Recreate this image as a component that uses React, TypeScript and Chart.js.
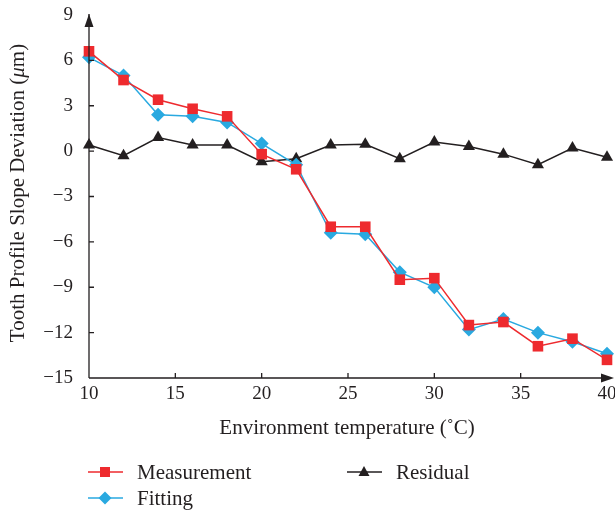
import React, { useEffect, useRef } from "react";
import { Chart, registerables } from "chart.js";

Chart.register(...registerables);

const temperatures = [10, 12, 14, 16, 18, 20, 22, 24, 26, 28, 30, 32, 34, 36, 38, 40];
const measurement = [6.6, 4.7, 3.4, 2.8, 2.3, -0.2, -1.2, -5.0, -5.0, -8.5, -8.4, -11.5, -11.3, -12.9, -12.4, -13.8];
const fitting = [6.2, 5.0, 2.4, 2.3, 1.9, 0.5, -0.9, -5.4, -5.5, -8.0, -9.0, -11.8, -11.1, -12.0, -12.6, -13.4];
const residual = [0.4, -0.3, 0.9, 0.4, 0.4, -0.7, -0.5, 0.4, 0.45, -0.5, 0.6, 0.3, -0.2, -0.9, 0.2, -0.4];

const xTitle = "Environment temperature (\u02DAC)";
const yTitleMain = "Tooth Profile Slope Deviation (";
const yTitleMu = "\u03BC";
const yTitleEnd = "m)";

const FONT = "'Liberation Serif', 'DejaVu Serif', serif";
const RED = "#EE2A2E";
const BLUE = "#29A9E0";
const BLACK = "#231F20";
const TEXT = 21;
const TICK = 19;

const toPts = (ys: number[]) => temperatures.map((x, i) => ({ x, y: ys[i] }));

const decorPlugin = {
  id: "decor",
  afterDraw(chart: any) {
    const ctx = chart.ctx as CanvasRenderingContext2D;
    const { left, right, top, bottom } = chart.chartArea;
    const xs = chart.scales.x;
    const ys = chart.scales.y;
    ctx.save();
    ctx.strokeStyle = BLACK;
    ctx.fillStyle = BLACK;
    ctx.lineWidth = 1.3;
    // axes
    ctx.beginPath();
    ctx.moveTo(left, bottom);
    ctx.lineTo(left, top - 1);
    ctx.moveTo(left, bottom);
    ctx.lineTo(right + 4, bottom);
    ctx.stroke();
    // ticks inward
    ctx.beginPath();
    xs.ticks.forEach((t: any) => {
      const px = xs.getPixelForValue(t.value);
      if (t.value === xs.min || t.value === xs.max) return;
      ctx.moveTo(px, bottom);
      ctx.lineTo(px, bottom - 5);
    });
    ys.ticks.forEach((t: any) => {
      const py = ys.getPixelForValue(t.value);
      if (t.value === ys.min || t.value === ys.max) return;
      ctx.moveTo(left, py);
      ctx.lineTo(left + 5, py);
    });
    ctx.stroke();
    // arrows
    ctx.beginPath();
    ctx.moveTo(left, top - 1);
    ctx.lineTo(left - 4.5, top + 12);
    ctx.lineTo(left + 4.5, top + 12);
    ctx.closePath();
    ctx.fill();
    ctx.beginPath();
    ctx.moveTo(right + 7, bottom);
    ctx.lineTo(right - 6, bottom - 4.5);
    ctx.lineTo(right - 6, bottom + 4.5);
    ctx.closePath();
    ctx.fill();

    // x title
    ctx.font = `${TEXT}px ${FONT}`;
    ctx.textAlign = "center";
    ctx.textBaseline = "middle";
    ctx.fillText(xTitle, 347, 428);

    // y title with italic mu
    ctx.save();
    ctx.translate(18, 193);
    ctx.rotate(-Math.PI / 2);
    const fN = `${TEXT}px ${FONT}`;
    const fI = `italic ${TEXT}px ${FONT}`;
    ctx.font = fN;
    const w1 = ctx.measureText(yTitleMain).width;
    const w3 = ctx.measureText(yTitleEnd).width;
    ctx.font = fI;
    const w2 = ctx.measureText(yTitleMu).width;
    const total = w1 + w2 + w3;
    let cx = -total / 2;
    ctx.textAlign = "left";
    ctx.font = fN;
    ctx.fillText(yTitleMain, cx, 0);
    cx += w1;
    ctx.font = fI;
    ctx.fillText(yTitleMu, cx, 0);
    cx += w2;
    ctx.font = fN;
    ctx.fillText(yTitleEnd, cx, 0);
    ctx.restore();

    // legend
    const items = [
      { ds: 0, x: 88, y: 472 },
      { ds: 1, x: 88, y: 498 },
      { ds: 2, x: 347, y: 472 },
    ];
    items.forEach((it) => {
      const ds = chart.data.datasets[it.ds];
      ctx.strokeStyle = ds.borderColor;
      ctx.lineWidth = 1.5;
      ctx.beginPath();
      ctx.moveTo(it.x, it.y);
      ctx.lineTo(it.x + 35, it.y);
      ctx.stroke();
      ctx.fillStyle = ds.pointBackgroundColor;
      const cxm = it.x + 17;
      ctx.beginPath();
      if (ds.pointStyle === "rect") {
        ctx.rect(cxm - 5, it.y - 5, 10, 10);
      } else if (ds.pointStyle === "rectRot") {
        ctx.moveTo(cxm, it.y - 6.5);
        ctx.lineTo(cxm + 6.5, it.y);
        ctx.lineTo(cxm, it.y + 6.5);
        ctx.lineTo(cxm - 6.5, it.y);
        ctx.closePath();
      } else {
        ctx.moveTo(cxm, it.y - 6);
        ctx.lineTo(cxm + 5.5, it.y + 4);
        ctx.lineTo(cxm - 5.5, it.y + 4);
        ctx.closePath();
      }
      ctx.fill();
      ctx.fillStyle = BLACK;
      ctx.font = `${TEXT}px ${FONT}`;
      ctx.textAlign = "left";
      ctx.textBaseline = "middle";
      ctx.fillText(ds.label, it.x + 49, it.y + 1);
    });
    ctx.restore();
  },
};

export default function App() {
  const ref = useRef<HTMLCanvasElement | null>(null);
  useEffect(() => {
    document.body.style.margin = "0";
    const canvas = ref.current!;
    const chart = new Chart(canvas, {
      type: "line",
      data: {
        datasets: [
          {
            label: "Measurement",
            data: toPts(measurement),
            borderColor: RED,
            backgroundColor: RED,
            pointBackgroundColor: RED,
            pointBorderColor: RED,
            pointStyle: "rect",
            pointRadius: 7.5,
            pointBorderWidth: 0,
            borderWidth: 1.5,
            clip: false,
          } as any,
          {
            label: "Fitting",
            data: toPts(fitting),
            borderColor: BLUE,
            backgroundColor: BLUE,
            pointBackgroundColor: BLUE,
            pointBorderColor: BLUE,
            pointStyle: "rectRot",
            pointRadius: 7,
            pointBorderWidth: 0,
            borderWidth: 1.5,
            clip: false,
          } as any,
          {
            label: "Residual",
            data: toPts(residual),
            borderColor: BLACK,
            backgroundColor: BLACK,
            pointBackgroundColor: BLACK,
            pointBorderColor: BLACK,
            pointStyle: "triangle",
            pointRadius: 7,
            pointBorderWidth: 0,
            borderWidth: 1.5,
            clip: false,
          } as any,
        ],
      },
      options: {
        responsive: false,
        animation: false,
        layout: { padding: { left: 0, right: 8, top: 15, bottom: 0 } },
        plugins: { legend: { display: false }, tooltip: { enabled: false } },
        scales: {
          x: {
            type: "linear",
            min: 10,
            max: 40,
            grid: { display: false, drawTicks: false },
            border: { display: false },
            ticks: {
              stepSize: 5,
              padding: 5,
              color: BLACK,
              font: { family: FONT, size: TICK },
              maxRotation: 0,
            },
            afterFit: (s: any) => {
              s.height = 134;
              s.paddingLeft = 0;
              s.paddingRight = 0;
            },
          },
          y: {
            type: "linear",
            min: -15,
            max: 9,
            grid: { display: false, drawTicks: false },
            border: { display: false },
            ticks: {
              stepSize: 3,
              padding: 16,
              color: BLACK,
              font: { family: FONT, size: TICK },
              callback: (v: any) => String(v).replace("-", "\u2212"),
            },
            afterFit: (s: any) => {
              s.width = 89;
              s.paddingTop = 0;
              s.paddingBottom = 0;
            },
          },
        },
      },
      plugins: [decorPlugin],
    });
    return () => chart.destroy();
  }, []);
  return (
    <div style={{ width: 615, height: 512 }}>
      <canvas ref={ref} width={615} height={512} style={{ width: 615, height: 512 }} />
    </div>
  );
}
